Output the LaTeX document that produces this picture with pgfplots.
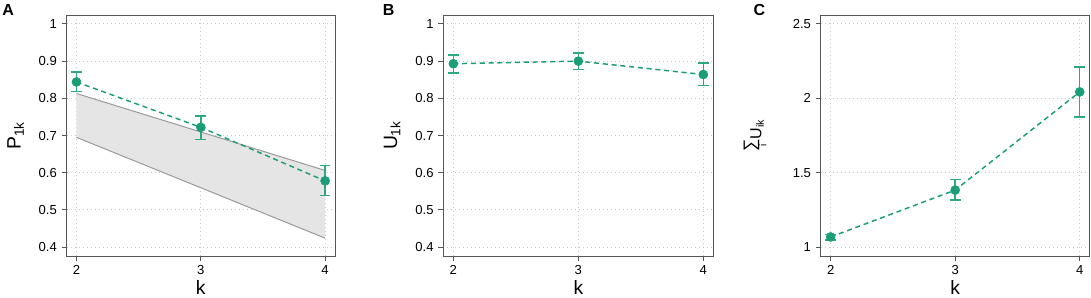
\documentclass[border=0pt]{standalone}
\usepackage{fontspec}
\setmainfont{Liberation Sans}
\usepackage{pgfplots}
\pgfplotsset{compat=1.18}
\usepackage{pgfplotstable}
\definecolor{dgreen}{HTML}{1B9E77}
\definecolor{errg}{HTML}{2FA882}
\definecolor{framec}{HTML}{555555}
\definecolor{bandf}{HTML}{E5E5E5}
\definecolor{bandl}{HTML}{9A9A9A}
\definecolor{gridc}{HTML}{C8C8C8}

\pgfplotstableread{
x y ep em
2 0.844 0.027 0.026
3 0.722 0.030 0.033
4 0.578 0.042 0.039
}\tabA
\pgfplotstableread{
x y ep em
2 0.893 0.024 0.025
3 0.900 0.022 0.022
4 0.864 0.031 0.030
}\tabB
\pgfplotstableread{
x y ep em
2 1.068 0.018 0.021
3 1.383 0.070 0.068
4 2.043 0.166 0.169
}\tabC

\pgfplotsset{
  panel/.style={
    scale only axis, height=180.75pt, anchor=south west,
    xmin=1.92, xmax=4.08, xtick={2,3,4},
    axis line style={framec, line width=0.75pt},
    tick style={framec, line width=0.75pt},
    tick align=outside, major tick length=3.75pt,
    xtick pos=left, ytick pos=left,
    grid=major, major grid style={gridc, line width=0.75pt, dash pattern=on 0.75pt off 2.25pt},
    ticklabel style={font=\fontsize{9.8}{10}\selectfont},
    /pgf/number format/assume math mode=true,
    xlabel={k},
    xlabel style={font=\fontsize{14.5}{14.5}\selectfont, at={(axis description cs:0.5,0)}, anchor=base, yshift=-29pt},
    ylabel style={font=\fontsize{14.5}{14.5}\selectfont, at={(axis description cs:-0.19,0.5)}, anchor=center},
  },
  pts/.style={only marks, mark=*, mark size=3.4pt, color=dgreen,
    error bars/.cd, y dir=both, y explicit,
    error bar style={errg, line width=1.1pt},
    error mark options={errg, line width=1.1pt, mark size=4pt, rotate=90}},
  dline/.style={dgreen, line width=1.1pt, dash pattern=on 3.8pt off 2.8pt, no marks},
}

\begin{document}
\begin{tikzpicture}
\path[use as bounding box] (0,0) rectangle (818.25pt,222.75pt);

% Panel A
\begin{axis}[panel, at={(49.9pt,30.75pt)}, width=201.4pt,
  ymin=0.376, ymax=1.024, ytick={0.4,0.5,0.6,0.7,0.8,0.9,1},
  ylabel={P\textsubscript{1k}}]
\addplot[fill=bandf, draw=none] coordinates {(2,0.813) (3,0.7095) (4,0.606) (4,0.424) (3,0.5595) (2,0.695)} -- cycle;
\addplot[bandl, line width=0.75pt, no marks] coordinates {(2,0.813) (3,0.7095) (4,0.606)};
\addplot[bandl, line width=0.75pt, no marks] coordinates {(2,0.695) (3,0.5595) (4,0.424)};
\addplot[dline] table[x=x, y=y] {\tabA};
\addplot[pts] table[x=x, y=y, y error plus=ep, y error minus=em] {\tabA};
\end{axis}

% Panel B
\begin{axis}[panel, at={(332.5pt,30.75pt)}, width=202.5pt,
  ymin=0.376, ymax=1.024, ytick={0.4,0.5,0.6,0.7,0.8,0.9,1},
  ylabel={U\textsubscript{1k}}]
\addplot[dline] table[x=x, y=y] {\tabB};
\addplot[pts] table[x=x, y=y, y error plus=ep, y error minus=em] {\tabB};
\end{axis}

% Panel C
\begin{axis}[panel, at={(615.5pt,30.75pt)}, width=201.75pt,
  ymin=0.94, ymax=2.56, ytick={1,1.5,2,2.5},
  ylabel style={font=\fontsize{12}{12}\selectfont, at={(axis description cs:-0.235,0.5)}},
  ylabel={\begin{tabular}{@{}c@{}}{\fontsize{13}{13}\selectfont ∑}\\[-4pt]{\fontsize{7.5}{7.5}\selectfont i}\end{tabular}U\textsubscript{ik}}]
\addplot[dline] table[x=x, y=y] {\tabC};
\addplot[pts] table[x=x, y=y, y error plus=ep, y error minus=em] {\tabC};
\end{axis}

\node[anchor=base west, inner sep=0pt, font=\fontsize{12}{12}\selectfont\bfseries] at (1.5pt,211pt) {A};
\node[anchor=base west, inner sep=0pt, font=\fontsize{12}{12}\selectfont\bfseries] at (287pt,211pt) {B};
\node[anchor=base west, inner sep=0pt, font=\fontsize{12}{12}\selectfont\bfseries] at (565pt,211pt) {C};
\end{tikzpicture}
\end{document}
